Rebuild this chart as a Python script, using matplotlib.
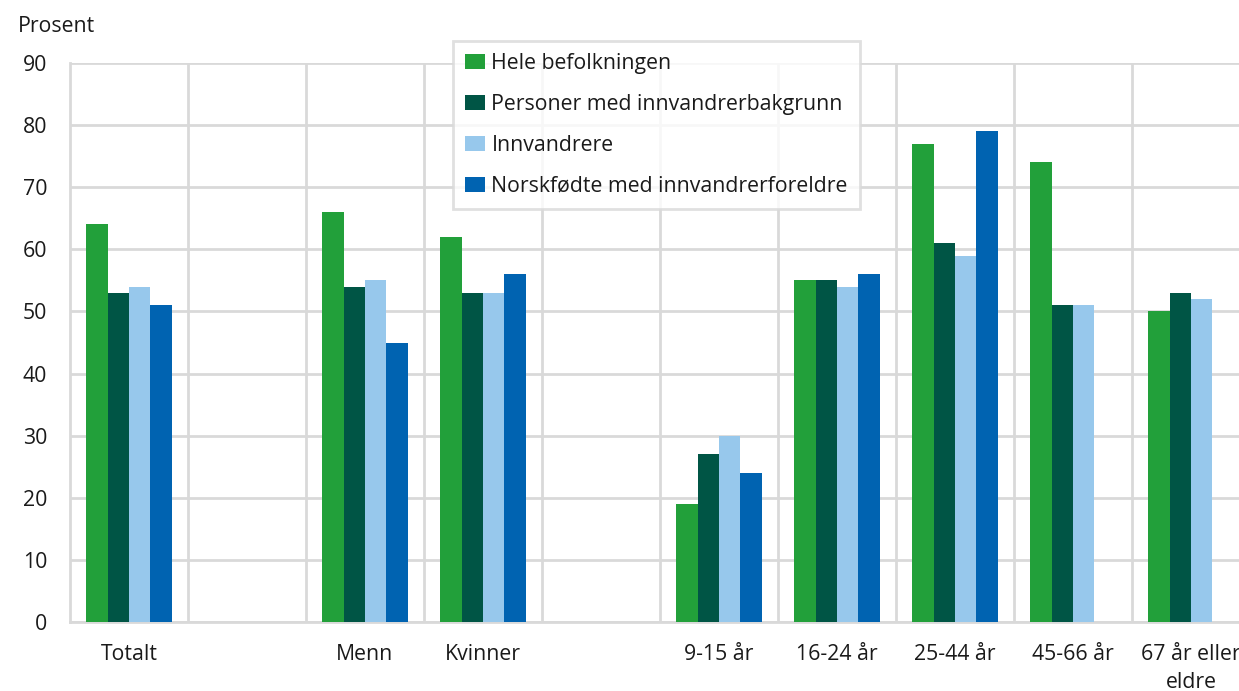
import matplotlib
matplotlib.use("Agg")
import matplotlib.pyplot as plt
from matplotlib.patches import Rectangle
from matplotlib.legend_handler import HandlerPatch
import numpy as np

categories = ["Totalt", "", "Menn", "Kvinner", "", "9-15 år", "16-24 år", "25-44 år", "45-66 år", "67 år eller\neldre"]
series_names = ["Hele befolkningen", "Personer med innvandrerbakgrunn", "Innvandrere", "Norskfødte med innvandrerforeldre"]
hele = [64, np.nan, 66, 62, np.nan, 19, 55, 77, 74, 50]
bakgrunn = [53, np.nan, 54, 53, np.nan, 27, 55, 61, 51, 53]
innvandrere = [54, np.nan, 55, 53, np.nan, 30, 54, 59, 51, 52]
norskfodte = [51, np.nan, 45, 56, np.nan, 24, 56, 79, np.nan, np.nan]
colors = ["#22a03a", "#005545", "#97c8ec", "#0063b1"]

plt.rcParams['font.family'] = ['Open Sans', 'DejaVu Sans']
FS = 15.3
fig = plt.figure(figsize=(12.39, 6.91), dpi=100)
W, H = 1239, 691
ax = fig.add_axes([70 / W, 1 - 622 / H, 1180 / W, 559 / H])

x = np.arange(len(categories))
bw = 0.182
for i, (vals, name) in enumerate(zip([hele, bakgrunn, innvandrere, norskfodte], series_names)):
    ax.bar(x + (i - 1.5) * bw, vals, bw, color=colors[i], label=name, zorder=3)

ax.set_xlim(-0.5, len(categories) - 0.5)
ax.set_ylim(0, 90)
ax.set_yticks(range(0, 91, 10))
ax.set_xticks(x)
ax.set_xticklabels(categories, fontsize=FS, color="#1a1a1a", linespacing=1.45)
ax.tick_params(axis='y', labelsize=FS, colors="#1a1a1a", length=0, pad=16.5)
ax.tick_params(axis='x', length=0, pad=16)
for lbl in ax.get_yticklabels():
    lbl.set_horizontalalignment('right')

gc = "#d9d9d9"
ax.grid(axis='y', color=gc, linewidth=2, zorder=0)
ax.set_xticks(np.arange(0.5, len(categories) - 0.5, 1), minor=True)
ax.grid(axis='x', which='minor', color=gc, linewidth=2, zorder=0)
ax.tick_params(axis='x', which='minor', length=0)
for s in ['top', 'right']:
    ax.spines[s].set_visible(False)
ax.spines['left'].set_color(gc)
ax.spines['left'].set_linewidth(2)
ax.spines['bottom'].set_color(gc)
ax.spines['bottom'].set_linewidth(2)

fig.text(18 / W, 1 - 26 / H, "Prosent", fontsize=FS, color="#1a1a1a", va='center', ha='left')


def square_patch(legend, orig_handle, xdescent, ydescent, width, height, fontsize):
    return Rectangle((-xdescent + width - height, -ydescent), height, height)


leg = ax.legend(loc='upper left', bbox_to_anchor=((453 - 70) / 1180, (622 - 41) / 559),
                fontsize=FS, frameon=True, fancybox=False, handlelength=0.96, handleheight=0.68,
                handletextpad=0.3, labelspacing=0.945, borderpad=0.55, borderaxespad=0,
                handler_map={Rectangle: HandlerPatch(patch_func=square_patch)})
leg.get_frame().set_edgecolor(gc)
leg.get_frame().set_linewidth(2)
for t in leg.get_texts():
    t.set_color("#1a1a1a")

fig.savefig("out.png", dpi=100)
